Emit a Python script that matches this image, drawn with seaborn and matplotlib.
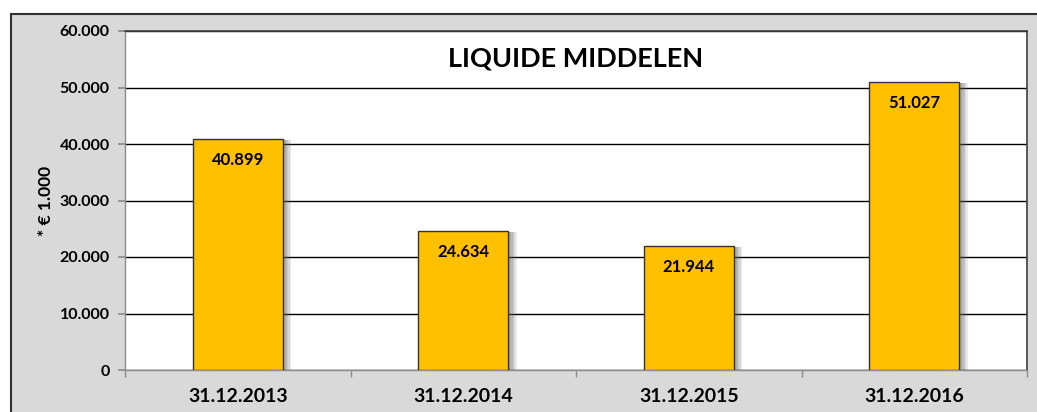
import matplotlib
matplotlib.use("Agg")
import matplotlib.pyplot as plt
import seaborn as sns
import pandas as pd
from matplotlib.patches import Rectangle
from matplotlib import patheffects as pe
from matplotlib.ticker import FuncFormatter, FixedLocator

categories = ["31.12.2013", "31.12.2014", "31.12.2015", "31.12.2016"]
values = [40899, 24634, 21944, 51027]
title = "LIQUIDE MIDDELEN"
ylabel = "* € 1.000"

sns.set_theme(style="white")
plt.rcParams['font.family'] = ['Lato', 'DejaVu Sans']

df = pd.DataFrame({"datum": categories, "waarde": values})

fig = plt.figure(figsize=(10.37, 4.12), dpi=100)
fig.patch.set_facecolor("white")
# outer chart area (gray with dark border)
bg = Rectangle((11/1037, -0.1), 1.2, 1 - 14/412 + 0.1, transform=fig.transFigure,
               facecolor="#d9d9d9", edgecolor="#303030", linewidth=1.5, zorder=-10)
fig.patches.append(bg)

ax = fig.add_axes([125/1037, 1 - 370/412, (1027 - 125)/1037, (370 - 31)/412])
ax.set_zorder(5)
ax.set_facecolor("white")

sns.barplot(data=df, x="datum", y="waarde", ax=ax, color="#ffc000", width=0.40,
            edgecolor="#333333", linewidth=1.0, saturation=1, zorder=3)

shadow = [pe.SimplePatchShadow(offset=(k, -1), shadow_rgbFace="#606060", alpha=0.13) for k in range(1, 7)]
for p in ax.patches:
    p.set_path_effects(shadow + [pe.Normal()])

ax.set_ylim(0, 60000)
ax.set_xlim(-0.5, 3.5)
ax.set_yticks(range(0, 60001, 10000))
ax.yaxis.set_major_formatter(FuncFormatter(lambda v, _: "0" if v == 0 else f"{int(v):,}".replace(",", ".")))
ax.grid(axis="y", color="black", linewidth=1.0, zorder=1)
ax.set_axisbelow(True)

for side in ["left", "bottom"]:
    ax.spines[side].set_color("#8c8c8c")
    ax.spines[side].set_linewidth(1.0)
for side in ["top", "right"]:
    ax.spines[side].set_color("#404040")
    ax.spines[side].set_linewidth(1.2)

ax.tick_params(axis="y", which="major", length=5, color="#8c8c8c", labelsize=11.5, pad=6, left=True)
ax.tick_params(axis="x", which="major", length=0, labelsize=14, pad=13)
ax.xaxis.set_minor_locator(FixedLocator([-0.5, 0.5, 1.5, 2.5, 3.5]))
ax.tick_params(axis="x", which="minor", length=5, color="#8c8c8c", bottom=True)
for lbl in ax.get_yticklabels() + ax.get_xticklabels():
    lbl.set_fontweight("bold")
    lbl.set_color("black")

ax.set_xlabel("")
ax.set_ylabel(ylabel, fontsize=12.5, fontweight="bold", color="black", labelpad=4)

for i, v in enumerate(values):
    ax.text(i, v - 2300, f"{v:,}".replace(",", "."), ha="center", va="top",
            fontsize=12, fontweight="bold", color="black", zorder=5)

ax.text(0.5, 0.918, title, transform=ax.transAxes, ha="center", va="center",
        fontsize=19.5, fontweight="bold", color="black")

fig.savefig("out.png", dpi=100, facecolor=fig.get_facecolor())
